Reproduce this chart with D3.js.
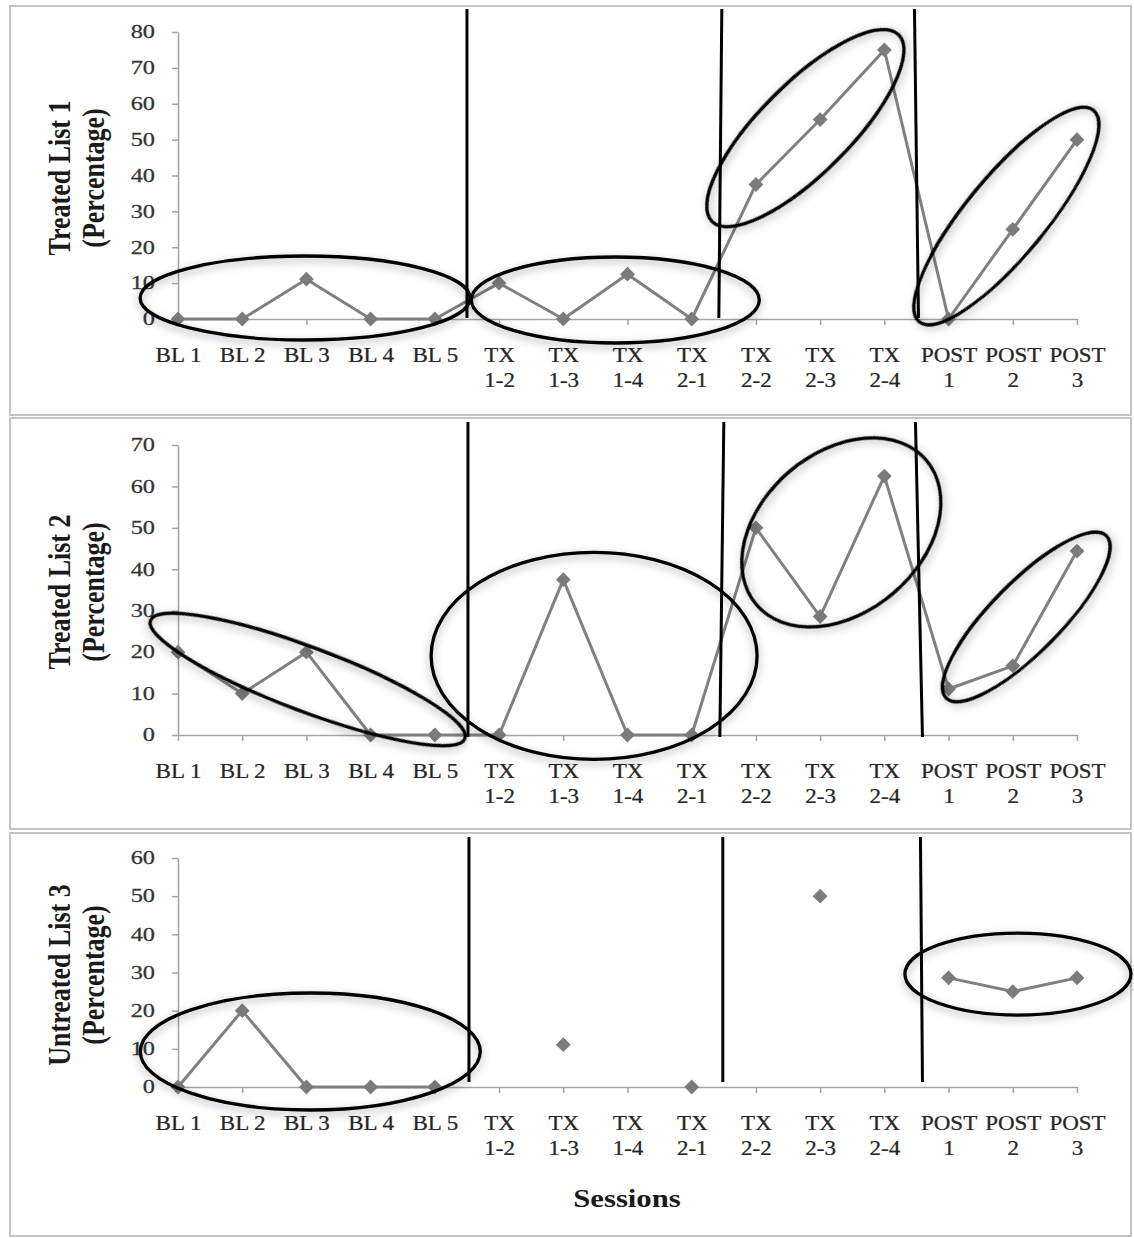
<!DOCTYPE html>
<html>
<head>
<meta charset="utf-8">
<script src="https://cdn.jsdelivr.net/npm/d3@7"></script>
<style>
  body { margin: 0; background: #fff; }
  svg { display: block; }
</style>
</head>
<body>
<svg id="chart" width="1134" height="1238"></svg>
<script>
// ---- Data ----
const sessions = ["BL 1", "BL 2", "BL 3", "BL 4", "BL 5",
  "TX 1-2", "TX 1-3", "TX 1-4", "TX 2-1", "TX 2-2", "TX 2-3", "TX 2-4",
  "POST 1", "POST 2", "POST 3"];
const sessionLabels = [["BL 1"], ["BL 2"], ["BL 3"], ["BL 4"], ["BL 5"],
  ["TX", "1-2"], ["TX", "1-3"], ["TX", "1-4"], ["TX", "2-1"], ["TX", "2-2"], ["TX", "2-3"], ["TX", "2-4"],
  ["POST", "1"], ["POST", "2"], ["POST", "3"]];

const treatedList1   = [0, 0, 11.1, 0, 0, 10, 0, 12.5, 0, 37.5, 55.6, 75, 0, 25, 50];
const treatedList2   = [20, 10, 20, 0, 0, 0, 37.5, 0, 0, 50, 28.6, 62.5, 11.1, 16.7, 44.4];
const untreatedList3 = [0, 20, 0, 0, 0, null, 11.1, null, 0, null, 50, null, 28.6, 25, 28.6];

const yTicks1 = [0, 10, 20, 30, 40, 50, 60, 70, 80];
const yTicks2 = [0, 10, 20, 30, 40, 50, 60, 70];
const yTicks3 = [0, 10, 20, 30, 40, 50, 60];

const titles1 = ["Treated List 1", "(Percentage)"];
const titles2 = ["Treated List 2", "(Percentage)"];
const titles3 = ["Untreated List 3", "(Percentage)"];

// phase changes fall between these pairs of sessions
const phaseBreaks = [[4, 5], [8, 9], [11, 12]];

// ---- Layout ----
const svg = d3.select("#chart");
const x = d3.scalePoint().domain(sessions).range([178, 1077]);

const panels = [
  { values: treatedList1, ticks: yTicks1, titles: titles1,
    box: [10, 6, 1131, 415], yRange: [319, 32], titleY: 178,
    phaseY: [9, 318], phaseShift: [[0, 0], [-2, -5], [-2, 2]],
    rings: [
      { at: 1.98, v: 5.85, rx: 165, ry: 42, angle: 0 },
      { at: 6.81, v: 5.3, rx: 144, ry: 43, angle: 0 },
      { at: 9.77, v: 53.2, rx: 132, ry: 45, angle: -45 },
      { at: 12.9, v: 28.7, rx: 137, ry: 40, angle: -50.5 }
    ] },
  { values: treatedList2, ticks: yTicks2, titles: titles2,
    box: [10, 418, 1131, 829], yRange: [735, 445], titleY: 592,
    phaseY: [422, 737], phaseShift: [[1, 1], [0, -4], [-1, 6]],
    rings: [
      { at: 2.02, v: 13.4, rx: 168, ry: 32, angle: 20.6 },
      { at: 6.48, v: 19.1, rx: 163, ry: 103.5, angle: 0 },
      { at: 10.33, v: 48.9, rx: 111.5, ry: 80, angle: -40.4 },
      { at: 13.21, v: 28.5, rx: 114, ry: 35, angle: -45.4 }
    ] },
  { values: untreatedList3, ticks: yTicks3, titles: titles3,
    box: [10, 833, 1131, 1236], yRange: [1087, 858], titleY: 975,
    phaseY: [837, 1082], phaseShift: [[2, 2], [-1, -1], [4, 6]],
    rings: [
      { at: 2.06, v: 9.3, rx: 170, ry: 58.5, angle: 0 },
      { at: 13.08, v: 29.6, rx: 113, ry: 41, angle: 0 }
    ] }
];

const serif = "'Liberation Serif', 'Times New Roman', serif";

// soft shadow under the hand-drawn rings
const defs = svg.append("defs");
const f = defs.append("filter").attr("id", "ringShadow")
  .attr("x", "-20%").attr("y", "-30%").attr("width", "140%").attr("height", "160%");
f.append("feDropShadow").attr("dx", 0).attr("dy", 3).attr("stdDeviation", 4)
  .attr("flood-color", "#000").attr("flood-opacity", 0.35);

const step = x.step();
const atX = i => x.range()[0] + i * step;

panels.forEach(p => {
  const g = svg.append("g");
  const [bx0, by0, bx1, by1] = p.box;

  g.append("rect")
    .attr("x", bx0).attr("y", by0)
    .attr("width", bx1 - bx0).attr("height", by1 - by0)
    .attr("fill", "#fff").attr("stroke", "#c4c4c4").attr("stroke-width", 2);

  const y = d3.scaleLinear().domain([0, d3.max(p.ticks)]).range(p.yRange);

  // y axis
  const ya = g.append("g").attr("transform", `translate(${x.range()[0]},0)`)
    .call(d3.axisLeft(y).tickValues(p.ticks).tickSizeInner(6).tickSizeOuter(0).tickPadding(17));
  ya.select(".domain").attr("stroke", "#a3a3a3").attr("stroke-width", 1.5);
  ya.selectAll(".tick line").attr("stroke", "#a3a3a3").attr("stroke-width", 1.5);
  const syY = 1.35;
  ya.selectAll(".tick text")
    .attr("font-family", serif).attr("font-size", 18).attr("fill", "#333")
    .attr("stroke", "#333").attr("stroke-width", 0.25)
    .each(function () {
      const t = d3.select(this);
      t.attr("x", +t.attr("x") / syY).attr("transform", `scale(${syY},1)`);
    });

  // x axis
  const xa = g.append("g").attr("transform", `translate(0,${p.yRange[0]})`)
    .call(d3.axisBottom(x).tickSizeInner(6).tickSizeOuter(0).tickFormat(""));
  xa.select(".domain").attr("stroke", "#a3a3a3").attr("stroke-width", 1.5);
  xa.selectAll(".tick line").attr("stroke", "#a3a3a3").attr("stroke-width", 1.5);
  const sxX = 1.15;
  xa.selectAll(".tick").each(function (d, i) {
    const t = d3.select(this).append("text")
      .attr("font-family", serif).attr("font-size", 20).attr("fill", "#262626")
      .attr("stroke", "#262626").attr("stroke-width", 0.25)
      .attr("text-anchor", "middle").attr("transform", `scale(${sxX},1)`);
    sessionLabels[i].forEach((line, k) => {
      t.append("tspan").attr("x", 0).attr("y", 43 + k * 25).text(line);
    });
  });

  // axis title (two rotated lines)
  p.titles.forEach((txt, k) => {
    g.append("text")
      .attr("transform", `translate(${k === 0 ? 70 : 104},${p.titleY}) scale(1.2,1) rotate(-90)`)
      .attr("text-anchor", "middle")
      .attr("font-family", serif).attr("font-weight", "bold").attr("font-size", 26)
      .attr("fill", "#1a1a1a")
      .text(txt);
  });

  // data line
  const line = d3.line()
    .defined(d => d != null)
    .x((d, i) => x(sessions[i]))
    .y(d => y(d));
  g.append("path").datum(p.values)
    .attr("d", line)
    .attr("fill", "none").attr("stroke", "#808080").attr("stroke-width", 3)
    .attr("stroke-linejoin", "round");

  const diamond = d3.symbol().type(d3.symbolDiamond2).size(140);
  g.selectAll("path.marker")
    .data(p.values.map((v, i) => ({ v, i })).filter(d => d.v != null))
    .join("path").attr("class", "marker")
    .attr("d", diamond)
    .attr("transform", d => `translate(${x(sessions[d.i])},${y(d.v)})`)
    .attr("fill", "#7b7b7b");

  // phase change lines
  phaseBreaks.forEach(([a, b], k) => {
    const mx = (x(sessions[a]) + x(sessions[b])) / 2;
    const [dt, db] = p.phaseShift[k];
    g.append("line")
      .attr("x1", mx + dt).attr("y1", p.phaseY[0])
      .attr("x2", mx + db).attr("y2", p.phaseY[1])
      .attr("stroke", "#000").attr("stroke-width", 3);
  });

  // highlight rings
  p.rings.forEach(r => {
    g.append("ellipse")
      .attr("transform", `translate(${atX(r.at)},${y(r.v)}) rotate(${r.angle})`)
      .attr("rx", r.rx).attr("ry", r.ry)
      .attr("fill", "none").attr("stroke", "#000").attr("stroke-width", 3.3)
      .attr("filter", "url(#ringShadow)");
  });
});

// shared x axis title
svg.append("text")
  .attr("transform", "translate(627,1207) scale(1.18,1)")
  .attr("text-anchor", "middle")
  .attr("font-family", serif).attr("font-weight", "bold").attr("font-size", 26)
  .attr("fill", "#1a1a1a")
  .text("Sessions");
</script>
</body>
</html>
